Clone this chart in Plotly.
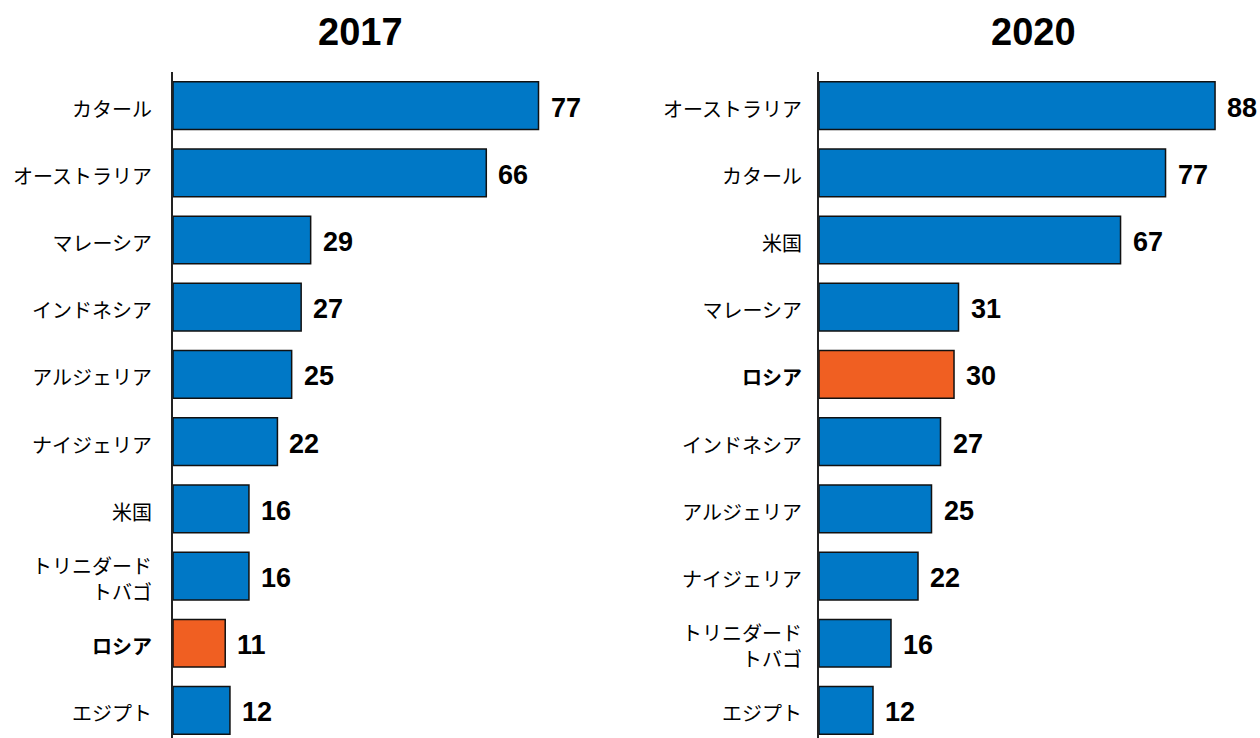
import plotly.graph_objects as go

# Data
cats_2017 = ["カタール", "オーストラリア", "マレーシア", "インドネシア", "アルジェリア",
             "ナイジェリア", "米国", "トリニダード<br>トバゴ", "<b>ロシア</b>", "エジプト"]
vals_2017 = [77, 66, 29, 27, 25, 22, 16, 16, 11, 12]

cats_2020 = ["オーストラリア", "カタール", "米国", "マレーシア", "<b>ロシア</b>",
             "インドネシア", "アルジェリア", "ナイジェリア", "トリニダード<br>トバゴ", "エジプト"]
vals_2020 = [88, 77, 67, 31, 30, 27, 25, 22, 16, 12]

titles = ["2017", "2020"]

BLUE = "#0078C6"
ORANGE = "#F05F22"


def colors(cats):
    return [ORANGE if "ロシア" in c else BLUE for c in cats]


fig = go.Figure()
fig.add_trace(go.Bar(x=vals_2017, y=cats_2017, orientation="h", xaxis="x", yaxis="y",
                     marker=dict(color=colors(cats_2017), line=dict(color="#111111", width=1.5)),
                     width=0.71, showlegend=False, hoverinfo="x+y"))
fig.add_trace(go.Bar(x=vals_2020, y=cats_2020, orientation="h", xaxis="x2", yaxis="y2",
                     marker=dict(color=colors(cats_2020), line=dict(color="#111111", width=1.5)),
                     width=0.71, showlegend=False, hoverinfo="x+y"))

W, H = 1260, 738
lab_font = dict(family="Liberation Sans, Arial, sans-serif", size=27, color="black")
annotations = []
for xa, ya, cats, vals in [("x", "y", cats_2017, vals_2017), ("x2", "y2", cats_2020, vals_2020)]:
    for c, v in zip(cats, vals):
        annotations.append(dict(x=v, y=c, xref=xa, yref=ya, text=f"<b>{v}</b>",
                                showarrow=False, xanchor="left", yanchor="middle",
                                xshift=10, yshift=-2, font=lab_font))

for xd, t in [("x domain", titles[0]), ("x2 domain", titles[1])]:
    annotations.append(dict(x=0.5, y=1.0, xref=xd, yref="paper", text=f"<b>{t}</b>",
                            showarrow=False, xanchor="center", yanchor="middle", yshift=40,
                            font=dict(family="Liberation Sans, Arial, sans-serif", size=38,
                                      color="black")))

tick_font = dict(family="Noto Sans CJK JP, sans-serif", size=20, color="black")
yax = dict(type="category", range=[9.41, -0.5], showline=True, linecolor="#222222", linewidth=2,
           ticks="", showgrid=False, zeroline=False, tickfont=tick_font,
           ticklabelshift=-4, fixedrange=True)
fig.update_layout(
    width=W, height=H,
    margin=dict(l=0, r=0, t=72, b=0),
    paper_bgcolor="white", plot_bgcolor="white",
    xaxis=dict(domain=[173 / W, 548 / W], range=[0, 79], visible=False, fixedrange=True),
    xaxis2=dict(domain=[819 / W, 1247 / W], range=[0, 95.1], visible=False, fixedrange=True),
    yaxis=dict(anchor="x", ticklabelstandoff=15, **yax),
    yaxis2=dict(anchor="x2", ticklabelstandoff=11, **yax),
    annotations=annotations,
)

fig.write_html("out.html", config={"displayModeBar": False},
               post_script="document.body.style.margin='0';")
